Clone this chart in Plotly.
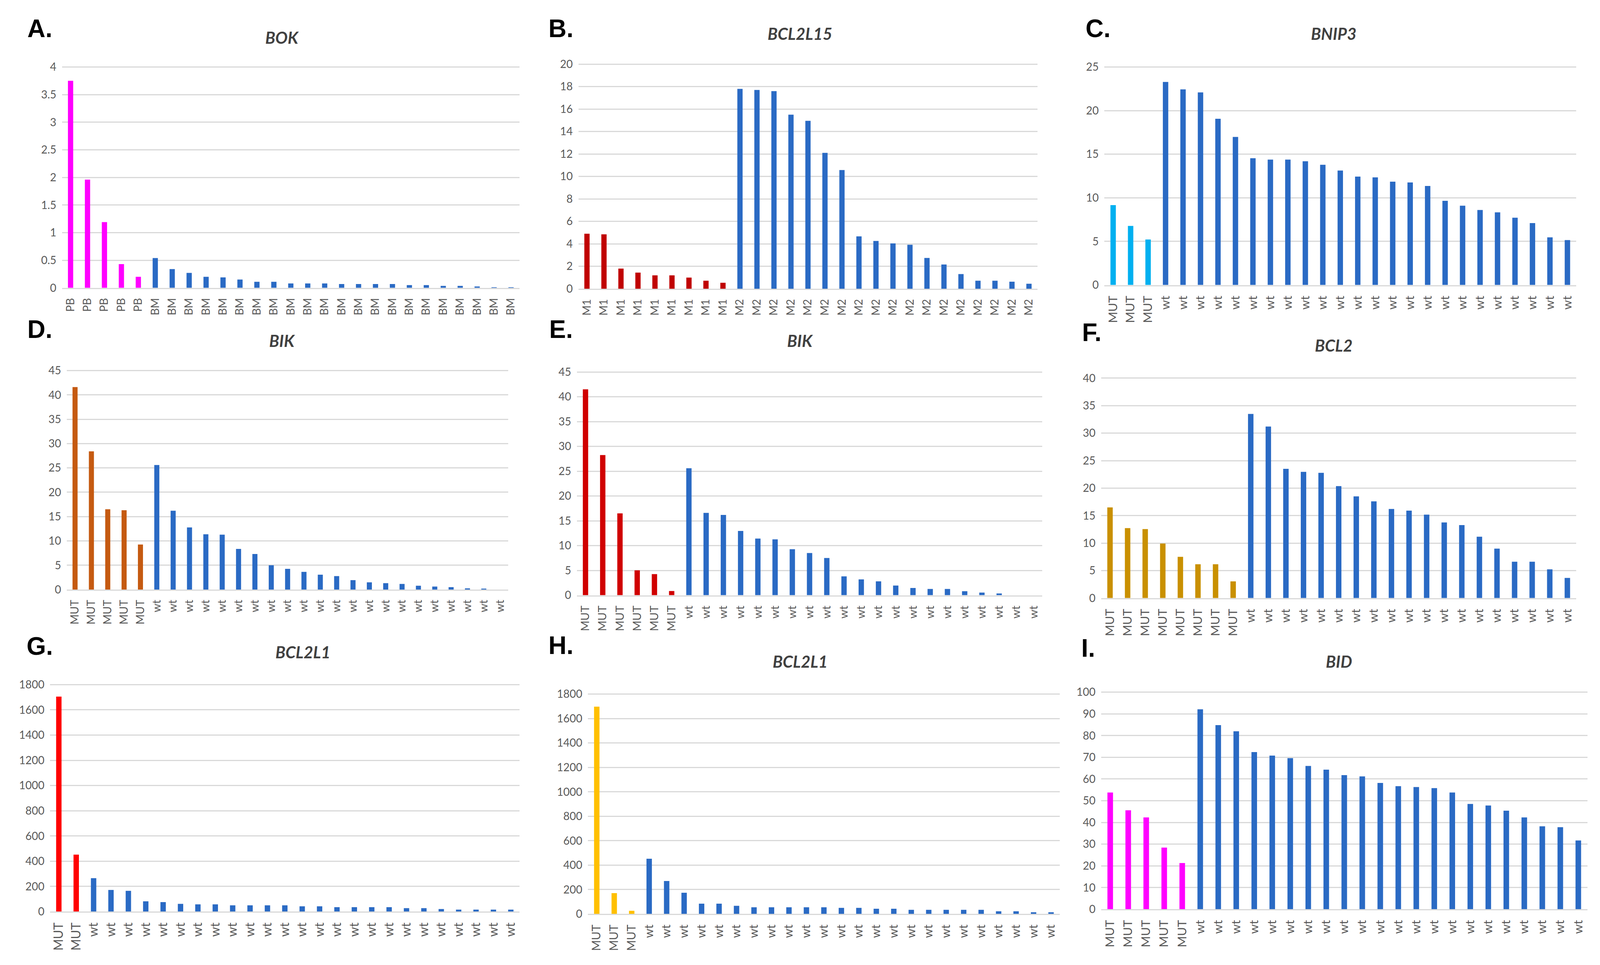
import plotly.graph_objects as go

# ---------------- data ----------------
bok_pb = [3.75, 1.96, 1.19, 0.43, 0.20]
bok_bm = [0.54, 0.34, 0.27, 0.20, 0.19, 0.15, 0.11, 0.11, 0.08, 0.08, 0.08, 0.07,
          0.07, 0.07, 0.07, 0.05, 0.05, 0.035, 0.035, 0.025, 0.004, 0.004]

bcl2l15_m1 = [4.9, 4.85, 1.8, 1.44, 1.2, 1.2, 1.0, 0.72, 0.54]
bcl2l15_m2 = [17.8, 17.7, 17.6, 15.5, 14.95, 12.1, 10.57, 4.67, 4.26, 4.04, 3.92,
              2.75, 2.16, 1.31, 0.72, 0.72, 0.63, 0.45]

bnip3_mut = [9.16, 6.77, 5.22]
bnip3_wt = [23.28, 22.43, 22.08, 19.06, 16.98, 14.54, 14.38, 14.38, 14.19, 13.78,
            13.13, 12.43, 12.34, 11.85, 11.76, 11.36, 9.65, 9.09, 8.6, 8.33, 7.72,
            7.1, 5.47, 5.15]

bik_d_mut = [41.6, 28.4, 16.5, 16.3, 9.26]
bik_d_wt = [25.6, 16.2, 12.77, 11.36, 11.28, 8.35, 7.31, 5.0, 4.26, 3.64, 3.06,
            2.77, 1.94, 1.49, 1.32, 1.16, 0.79, 0.62, 0.5, 0.25, 0.2, 0.0]

bik_e_mut = [41.5, 28.25, 16.5, 5.03, 4.26, 0.85]
bik_e_wt = [25.6, 16.6, 16.2, 12.97, 11.43, 11.27, 9.28, 8.51, 7.5, 3.81, 3.2,
            2.8, 1.95, 1.46, 1.26, 1.26, 0.81, 0.53, 0.36, 0.0, 0.0]

bcl2_mut = [16.5, 12.73, 12.55, 9.92, 7.5, 6.15, 6.15, 3.04]
bcl2_wt = [33.5, 31.2, 23.5, 22.96, 22.78, 20.36, 18.5, 17.6, 16.2, 15.9, 15.18,
           13.76, 13.28, 11.16, 9.0, 6.62, 6.62, 5.23, 3.66]

bcl2l1_g_mut = [1705, 452]
bcl2l1_g_wt = [265, 172, 165, 82, 76, 62, 58, 58, 50, 50, 50, 50, 42, 42, 35, 35,
               35, 35, 28, 28, 21, 16, 16, 16, 16]

bcl2l1_h_mut = [1697, 171, 26]
bcl2l1_h_wt = [452, 270, 174, 85, 85, 67, 55, 55, 55, 55, 55, 50, 50, 43, 43, 34,
               34, 34, 34, 34, 22, 22, 14, 14]

bid_mut = [53.8, 45.6, 42.3, 28.4, 21.3]
bid_wt = [92.1, 84.8, 82.0, 72.4, 70.8, 69.6, 66.0, 64.3, 61.8, 61.2, 58.2, 56.7,
          56.3, 55.8, 53.8, 48.5, 47.8, 45.4, 42.3, 38.2, 37.8, 31.7]

panel_letters = ["A.", "B.", "C.", "D.", "E.", "F.", "G.", "H.", "I."]
gene_titles = ["BOK", "BCL2L15", "BNIP3", "BIK", "BIK", "BCL2", "BCL2L1", "BCL2L1", "BID"]
group_a_labels = ["PB", "M1", "MUT", "MUT", "MUT", "MUT", "MUT", "MUT", "MUT"]
group_b_labels = ["BM", "M2", "wt", "wt", "wt", "wt", "wt", "wt", "wt"]
group_a_values = [bok_pb, bcl2l15_m1, bnip3_mut, bik_d_mut, bik_e_mut, bcl2_mut,
                  bcl2l1_g_mut, bcl2l1_h_mut, bid_mut]
group_b_values = [bok_bm, bcl2l15_m2, bnip3_wt, bik_d_wt, bik_e_wt, bcl2_wt,
                  bcl2l1_g_wt, bcl2l1_h_wt, bid_wt]
y_max = [4, 20, 25, 45, 45, 40, 1800, 1800, 100]
y_step = [0.5, 2, 5, 5, 5, 5, 200, 200, 10]

# ---------------- style / layout ----------------
BLUE = "#2A6AC4"
group_a_colors = ["#FF00FF", "#C00000", "#00B0F0", "#C55A11", "#D00000",
                  "#C99000", "#FF0000", "#FFC000", "#FF00FF"]
x_domains = [[0.037, 0.324], [0.361, 0.649], [0.691, 0.987],
             [0.040, 0.317], [0.360, 0.652], [0.689, 0.987],
             [0.0295, 0.324], [0.367, 0.663], [0.689, 0.994]]
y_domains = [[0.706, 0.940], [0.705, 0.943], [0.709, 0.940],
             [0.387, 0.619], [0.381, 0.6175], [0.378, 0.611],
             [0.0465, 0.287], [0.044, 0.277], [0.049, 0.279]]
title_pos = [(0.175, 0.9705), (0.500, 0.975), (0.835, 0.975),
             (0.175, 0.650), (0.500, 0.650), (0.835, 0.645),
             (0.188, 0.321), (0.500, 0.311), (0.838, 0.311)]
letter_pos = [(0.023, 0.980), (0.350, 0.980), (0.687, 0.980),
              (0.023, 0.662), (0.350, 0.662), (0.683, 0.659),
              (0.023, 0.327), (0.350, 0.328), (0.681, 0.325)]
xtick_sizes = [28, 28, 31, 28, 29, 31, 32, 30, 31]

FONT = "Lato, 'Open Sans', 'Liberation Sans', sans-serif"
GRID = "#D9D9D9"
TICK = "#595959"

fig = go.Figure()
annotations = []
for i in range(9):
    vals = group_a_values[i] + group_b_values[i]
    labels = [group_a_labels[i]] * len(group_a_values[i]) + [group_b_labels[i]] * len(group_b_values[i])
    colors = [group_a_colors[i]] * len(group_a_values[i]) + [BLUE] * len(group_b_values[i])
    xs = list(range(len(vals)))
    sfx = "" if i == 0 else str(i + 1)
    fig.add_trace(go.Bar(x=xs, y=vals, marker=dict(color=colors, line=dict(width=0)),
                         xaxis="x" + sfx, yaxis="y" + sfx, showlegend=False))
    fig.layout["xaxis" + sfx] = dict(
        domain=x_domains[i], anchor="y" + sfx, range=[-0.5, len(vals) - 0.5],
        tickmode="array", tickvals=xs, ticktext=labels, tickangle=-90,
        showgrid=False, zeroline=False, showline=True, linecolor=GRID, linewidth=3,
        ticks="outside", ticklen=12, tickcolor="rgba(0,0,0,0)",
        tickfont=dict(family=FONT, size=xtick_sizes[i], color=TICK))
    fig.layout["yaxis" + sfx] = dict(
        domain=y_domains[i], anchor="x" + sfx, range=[0, y_max[i] * 1.002],
        dtick=y_step[i], tick0=0, showgrid=True, gridcolor=GRID, gridwidth=3,
        zeroline=False, showline=False, ticks="outside", ticklen=8, tickcolor="rgba(0,0,0,0)",
        tickfont=dict(family=FONT, size=28, color=TICK))
    annotations.append(dict(text="<b><i>" + gene_titles[i] + "</i></b>", x=title_pos[i][0],
                            y=title_pos[i][1], xref="paper", yref="paper", showarrow=False,
                            xanchor="center", yanchor="middle",
                            font=dict(family=FONT, size=42, color="#404040")))
    annotations.append(dict(text="<b>" + panel_letters[i] + "</b>", x=letter_pos[i][0],
                            y=letter_pos[i][1], xref="paper", yref="paper", showarrow=False,
                            xanchor="center", yanchor="middle",
                            font=dict(family="'Liberation Sans', Arial, sans-serif", size=64, color="#000000")))

fig.update_layout(autosize=True, margin=dict(l=0, r=0, t=0, b=0),
                  plot_bgcolor="white", paper_bgcolor="white",
                  bargap=0.69, annotations=annotations)
fig.write_html("out.html", default_width="calc(100vw - 16px)",
               default_height="calc(100vh - 16px)", config={"responsive": True})
